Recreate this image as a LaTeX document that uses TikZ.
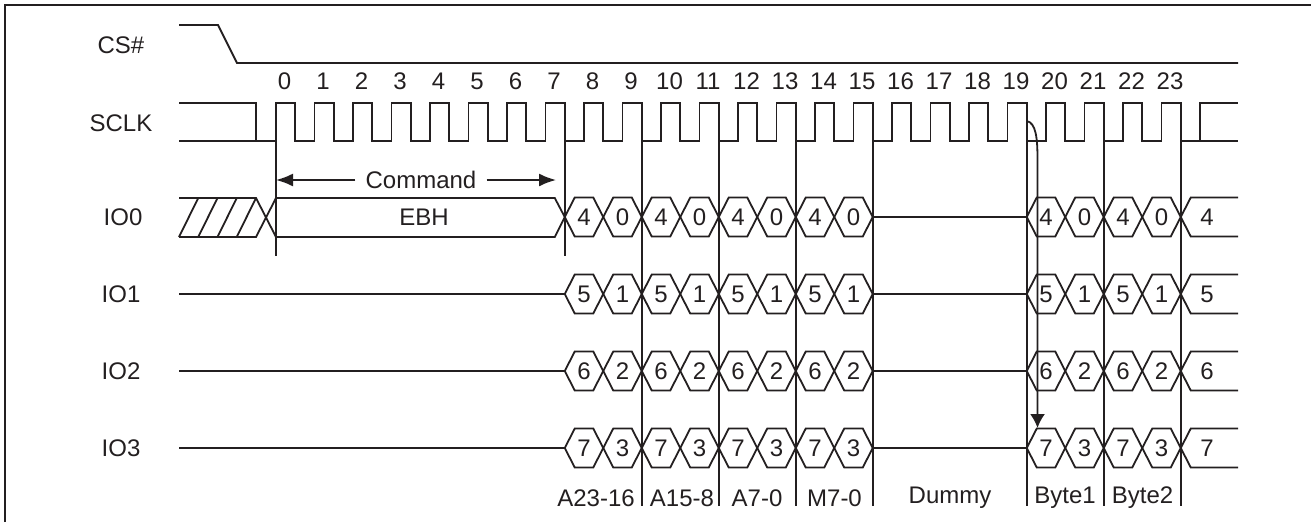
\documentclass[tikz,border=0pt]{standalone}
\usepackage{fontspec}
\setmainfont{Liberation Sans}
\usetikzlibrary{arrows.meta}
\definecolor{ink}{HTML}{231F20}
\begin{document}
\begin{tikzpicture}[x=1pt,y=-1pt,
  sig/.style={line width=1.8pt, line join=miter, draw=ink},
  lab/.style={font=\fontsize{24}{28}\selectfont, inner sep=0pt, text=ink},
  vline/.style={line width=1.8pt, draw=ink},
]
\useasboundingbox (0,0) rectangle (1311,522);
% frame (top and left)
\draw[sig] (5,522) -- (5,5) -- (1311,5);

% row labels
\node[lab] (lcs)   at (121,45)  {CS\#};
\node[lab] (lsclk) at (121,123) {SCLK};
\node[lab] (lio0)  at (123,217) {IO0};
\node[lab] (lio1)  at (121,294) {IO1};
\node[lab] (lio2)  at (121,371) {IO2};
\node[lab] (lio3)  at (121,448) {IO3};

% CS#
\draw[sig] (179,25) -- (218,25) -- (237,63) -- (1238,63);

% SCLK
\draw[sig] (179,103) -- (256,103) -- (256,141);
\draw[sig] (179,141) -- (276,141)
  \foreach \k in {0,...,23} { -- ++(0,-38) -- ++(19.25,0) -- ++(0,38) -- ++(19.25,0) }
  -- ++(0,-38) -- (1238,103);
\draw[sig] (1200,141) -- (1238,141);
\foreach \k in {0,...,23} {
  \node[lab] (n\k) at ({276+38.5*\k+8.5},81) {\k};
}

% IO0 before address
\draw[sig] (179,198) -- (256,198) -- (276,237) -- (554.75,237) -- (564.75,217)
  -- (554.75,198) -- (276,198) -- (256,237) -- (179,237);
\foreach \i in {0,...,3} {
  \draw[sig] ({179+19.25*\i},237) -- ({198.25+19.25*\i},198);
}
\node[lab] (ebh) at (424,217) {EBH};

% IO1..IO3 idle lines
\foreach \r in {294,371,448} {
  \draw[sig] (179,\r) -- (564.75,\r);
}

% buses
\foreach \r/\hi/\lo [count=\n] in {217/4/0, 294/5/1, 371/6/2, 448/7/3} {
  \foreach \j in {0,...,7} {
    \pgfmathsetmacro\a{564.75+38.5*\j}
    \pgfmathsetmacro\b{\a+38.5}
    \draw[sig] (\a,\r) -- (\a+10,\r-19.5) -- (\b-10,\r-19.5) -- (\b,\r)
      -- (\b-10,\r+19.5) -- (\a+10,\r+19.5) -- cycle;
    \node[lab] (h\n-\j) at ({(\a+\b)/2},\r) {\ifodd\j\relax\lo\else\hi\fi};
  }
  \draw[sig] (872.75,\r) -- (1026.75,\r);
  \foreach \j in {0,...,3} {
    \pgfmathsetmacro\a{1026.75+38.5*\j}
    \pgfmathsetmacro\b{\a+38.5}
    \draw[sig] (\a,\r) -- (\a+10,\r-19.5) -- (\b-10,\r-19.5) -- (\b,\r)
      -- (\b-10,\r+19.5) -- (\a+10,\r+19.5) -- cycle;
    \node[lab] (d\n-\j) at ({(\a+\b)/2},\r) {\ifodd\j\relax\lo\else\hi\fi};
  }
  \draw[sig] (1238,\r-19.5) -- (1190.75,\r-19.5) -- (1180.75,\r)
    -- (1190.75,\r+19.5) -- (1238,\r+19.5);
  \node[lab] (e\n) at (1207,\r) {\hi};
}

% vertical markers
\draw[vline] (276,141) -- (276,256);
\draw[vline] (564.75,141) -- (564.75,256);
\foreach \x in {641.75,718.75,795.75,872.75,1026.75,1103.75,1180.75} {
  \draw[vline] (\x,141) -- (\x,506);
}

% Command arrow
\coordinate (cmdL) at (276,180);
\coordinate (cmdR) at (556,180);
\node[lab, inner xsep=10pt] (cmd) at (421,180) {Command};
\draw[sig, -{Latex[length=17pt,width=13pt]}] (cmd.west) -- (cmdL);
\draw[sig, -{Latex[length=17pt,width=13pt]}] (cmd.east) -- (cmdR);

% data-out arrow
\coordinate (c19) at (1026.75,121);
\coordinate (io3top) at (1037.5,428);
\draw[sig, -{Latex[length=14pt,width=15pt]}] (c19) .. controls (1036,123) and (1037.5,138) .. (1037.5,160) -- (io3top);

% bottom labels
\node[lab] (b1) at (596,498)  {A23-16};
\node[lab] (b2) at (682,498)  {A15-8};
\node[lab] (b3) at (757,498)  {A7-0};
\node[lab] (b4) at (834.5,498) {M7-0};
\node[lab] (b5) at (950,498)  {Dummy};
\node[lab] (b6) at (1065,498) {Byte1};
\node[lab] (b7) at (1142.5,498) {Byte2};
\end{tikzpicture}
\end{document}
